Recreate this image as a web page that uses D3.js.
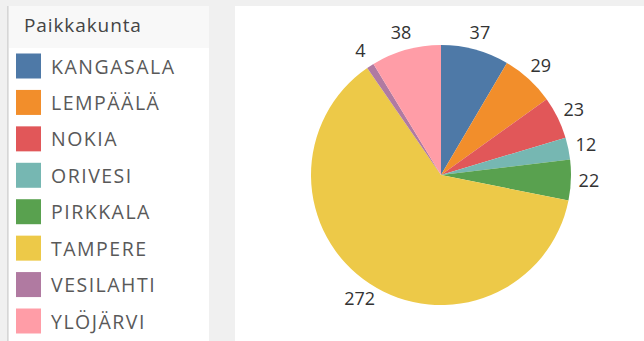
<!DOCTYPE html>
<html>
<head>
<meta charset="utf-8">
<script src="https://cdn.jsdelivr.net/npm/d3@7"></script>
<style>
  html, body { margin: 0; padding: 0; background: #f0f0f0; }
  svg { display: block; }
  text { font-family: "Open Sans", sans-serif; }
</style>
</head>
<body>
<svg id="chart" width="644" height="341"></svg>
<script>
// Kunnat ja lukumäärät
const categories = ["KANGASALA", "LEMPÄÄLÄ", "NOKIA", "ORIVESI", "PIRKKALA", "TAMPERE", "VESILAHTI", "YLÖJÄRVI"];
const values = [37, 29, 23, 12, 22, 272, 4, 38];
const colors = ["#4e79a7", "#f28e2b", "#e15759", "#76b7b2", "#59a14f", "#edc948", "#b07aa1", "#ff9da7"];
const legendTitle = "Paikkakunta";

const svg = d3.select("#chart");

// Legend panel
const legend = svg.append("g");
legend.append("rect").attr("x", 7).attr("y", 6).attr("width", 1.5).attr("height", 335).attr("fill", "#d6d6d6");
legend.append("rect").attr("x", 9).attr("y", 6).attr("width", 200).attr("height", 335).attr("fill", "#ffffff");
legend.append("rect").attr("x", 9).attr("y", 6).attr("width", 200).attr("height", 42).attr("fill", "#f8f8f8");
legend.append("text")
  .attr("x", 24).attr("y", 32)
  .attr("font-size", 19).attr("fill", "#444")
  .attr("letter-spacing", 0.9)
  .text(legendTitle);

const color = d3.scaleOrdinal().domain(categories).range(colors);
const rowY = d3.scalePoint().domain(categories).range([66, 321]);

const items = legend.selectAll("g.item").data(categories).join("g")
  .attr("class", "item")
  .attr("transform", d => `translate(0,${rowY(d)})`);
items.append("rect")
  .attr("x", 16).attr("y", -12.5).attr("width", 25).attr("height", 25)
  .attr("fill", d => color(d));
items.append("text")
  .attr("x", 51).attr("y", 7.5)
  .attr("font-size", 19.5).attr("fill", "#595959")
  .attr("letter-spacing", 1.5)
  .text(d => d);

// Chart panel
svg.append("rect").attr("x", 235).attr("y", 6).attr("width", 409).attr("height", 335).attr("fill", "#ffffff");

const cx = 441, cy = 175, radius = 130;
const data = categories.map((c, i) => ({ name: c, value: values[i] }));
const pie = d3.pie().value(d => d.value).sort(null);
const arcs = pie(data);
const arc = d3.arc().innerRadius(0).outerRadius(radius);
const labelArc = d3.arc().innerRadius(148).outerRadius(148);

const g = svg.append("g").attr("transform", `translate(${cx},${cy})`);
g.selectAll("path").data(arcs).join("path")
  .attr("d", arc)
  .attr("fill", d => color(d.data.name));

g.selectAll("text").data(arcs).join("text")
  .attr("transform", d => `translate(${labelArc.centroid(d)})`)
  .attr("text-anchor", "middle")
  .attr("dy", "0.35em")
  .attr("font-size", 18).attr("fill", "#333")
  .text(d => d.data.value);
</script>
</body>
</html>
